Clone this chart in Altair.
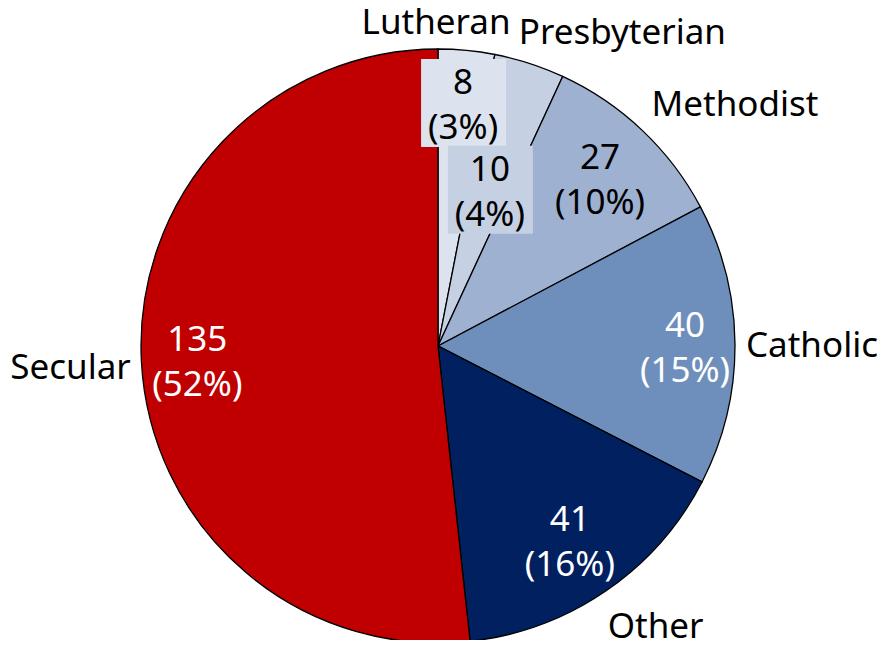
import math
import altair as alt
import pandas as pd

# ---- data ----
categories = ["Lutheran", "Presbyterian", "Methodist", "Catholic", "Other", "Secular"]
counts = [8, 10, 27, 40, 41, 135]
percents = ["3%", "4%", "10%", "15%", "16%", "52%"]

# ---- styles ----
colors = ["#dce3ee", "#c5d0e2", "#9fb1d1", "#6e8fbb", "#002060", "#c00000"]
value_text_colors = ["black", "black", "black", "white", "white", "white"]
boxed_labels = ["Lutheran", "Presbyterian"]

FONT = "Noto Sans"
FS = 35
LH = 45
CX, CY, R = 430, 338, 297
R_IN, R_OUT = 240, 365
inside_nudge = {"Lutheran": (2, -24), "Presbyterian": (-22, 52), "Methodist": (-3, -14),
                "Catholic": (7, -19), "Other": (-4, -24), "Secular": (-1, -19)}
outside_nudge = {"Lutheran": (-37, 40), "Presbyterian": (72, 34), "Methodist": (46, 24),
                 "Catholic": (9, 2), "Other": (11, -20), "Secular": (-3, 2)}

total = sum(counts)
mids = []
cum = 0
for c in counts:
    mids.append(cum + c / 2)
    cum += c

df = pd.DataFrame({
    "category": categories,
    "count": counts,
    "order": list(range(len(categories))),
    "mid": mids,
    "value_label": [f"{c}\n({p})" for c, p in zip(counts, percents)],
})

theta_scale = alt.Scale(domain=[0, total], range=[0, 2 * math.pi])
color_scale = alt.Scale(domain=categories, range=colors)

arcs = alt.Chart(df).mark_arc(outerRadius=R, stroke="black", strokeWidth=1.3).encode(
    theta=alt.Theta("count:Q", stack=True, scale=theta_scale),
    order=alt.Order("order:Q"),
    color=alt.Color("category:N", scale=color_scale, legend=None),
    x=alt.value(CX),
    y=alt.value(CY),
)

# background boxes behind the two small labels (anchored on the label positions)
box_rows = []
for cat in boxed_labels:
    i = categories.index(cat)
    ang = mids[i] / total * 2 * math.pi
    px = CX + R_IN * math.sin(ang) + inside_nudge[cat][0]
    py = CY - R_IN * math.cos(ang) + inside_nudge[cat][1]
    box_rows.append({"category": cat, "bx": px - 42, "bx2": px + 43, "by": py - 24, "by2": py + 64})
boxes_df = pd.DataFrame(box_rows)

boxes = alt.Chart(boxes_df).mark_rect().encode(
    x=alt.X("bx:Q", scale=None, axis=None),
    x2="bx2:Q",
    y=alt.Y("by:Q", scale=None, axis=None),
    y2="by2:Q",
    color=alt.Color("category:N", scale=color_scale, legend=None),
)

layers = [arcs, boxes]
for i, cat in enumerate(categories):
    dx, dy = inside_nudge[cat]
    layers.append(
        alt.Chart(df).transform_filter(alt.datum.category == cat).mark_text(
            radius=R_IN, dx=dx, dy=dy, font=FONT, fontSize=FS, lineHeight=LH,
            lineBreak="\n", align="center", baseline="middle", color=value_text_colors[i],
        ).encode(
            theta=alt.Theta("mid:Q", stack=False, scale=theta_scale),
            text="value_label:N",
            x=alt.value(CX),
            y=alt.value(CY),
        )
    )
    ox, oy = outside_nudge[cat]
    layers.append(
        alt.Chart(df).transform_filter(alt.datum.category == cat).mark_text(
            radius=R_OUT, dx=ox, dy=oy, font=FONT, fontSize=FS,
            align="center", baseline="middle", color="black",
        ).encode(
            theta=alt.Theta("mid:Q", stack=False, scale=theta_scale),
            text="category:N",
            x=alt.value(CX),
            y=alt.value(CY),
        )
    )

chart = alt.layer(*layers).properties(
    width=871, height=632, padding=0, autosize="none"
).configure_view(strokeWidth=0)

chart.save("out.html", embed_options={"renderer": "svg", "actions": False})
